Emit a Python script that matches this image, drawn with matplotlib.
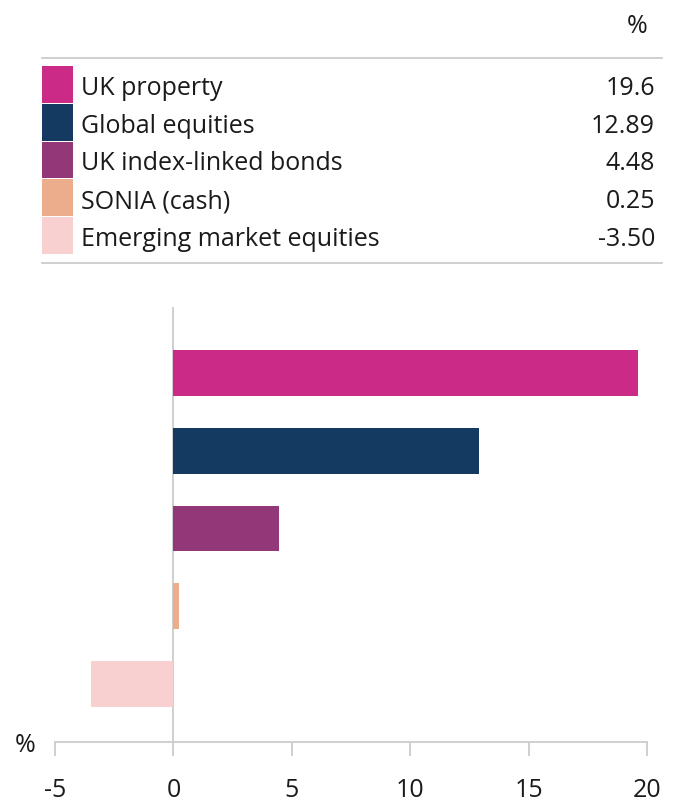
import matplotlib
matplotlib.use("Agg")
import matplotlib.pyplot as plt
from matplotlib.patches import Rectangle
from matplotlib.lines import Line2D

categories = ["UK property", "Global equities", "UK index-linked bonds", "SONIA (cash)", "Emerging market equities"]
values = [19.6, 12.89, 4.48, 0.25, -3.50]
value_labels = ["19.6", "12.89", "4.48", "0.25", "-3.50"]
colors = ["#CC2A87", "#143A62", "#923778", "#EBAD8C", "#F9D0D0"]
xticks = [-5, 0, 5, 10, 15, 20]
xtick_labels = ["-5", "0", "5", "10", "15", "20"]

W, H = 680, 798
plt.rcParams['font.family'] = ['Open Sans', 'DejaVu Sans']
fig = plt.figure(figsize=(W / 100, H / 100), dpi=100)

def fx(x):
    return x / W

def fy(y):
    return 1 - y / H

text_color = "#1a1a1a"
grid_color = "#cccccc"
fs = 18

# ---- Legend table ----
fig.text(fx(648), fy(33), "%", ha="right", va="baseline", fontsize=fs, color=text_color)
fig.add_artist(Line2D([fx(42), fx(662)], [fy(58), fy(58)], color=grid_color, lw=1.3))
fig.add_artist(Line2D([fx(42), fx(662)], [fy(263), fy(263)], color=grid_color, lw=1.3))
row_top = 66
row_h = 37.8
for i, (cat, lab, col) in enumerate(zip(categories, value_labels, colors)):
    top = row_top + i * row_h
    fig.add_artist(Rectangle((fx(42), fy(top + row_h - 1)), fx(31), (row_h - 1) / H,
                             transform=fig.transFigure, facecolor=col, edgecolor="none"))
    base = top + row_h / 2 + 10
    fig.text(fx(81), fy(base), cat, ha="left", va="baseline", fontsize=fs, color=text_color)
    fig.text(fx(655), fy(base), lab, ha="right", va="baseline", fontsize=fs, color=text_color)

# ---- Bar chart ----
ax = fig.add_axes([fx(55), fy(742), fx(647) - fx(55), (742 - 307) / H])
ypos = list(range(len(categories)))
ax.barh(ypos, values, height=46 / 78, color=colors)
ax.set_xlim(-5, 20)
ax.set_ylim(4.744, -0.846)
for s in ["top", "right", "left"]:
    ax.spines[s].set_visible(False)
ax.spines["bottom"].set_color(grid_color)
ax.spines["bottom"].set_linewidth(1.3)
ax.axvline(0, color=grid_color, lw=1.3, zorder=0)
ax.set_yticks([])
ax.set_xticks(xticks)
ax.set_xticklabels(xtick_labels)
ax.tick_params(axis="x", direction="out", length=10, width=1.3, color=grid_color,
               labelsize=fs, labelcolor=text_color, pad=29.5)
for t in ax.get_xticklabels():
    t.set_verticalalignment("baseline")
ax.patch.set_alpha(0)
fig.text(fx(25), fy(752), "%", ha="center", va="baseline", fontsize=fs, color=text_color)

fig.savefig("out.png", dpi=100)
